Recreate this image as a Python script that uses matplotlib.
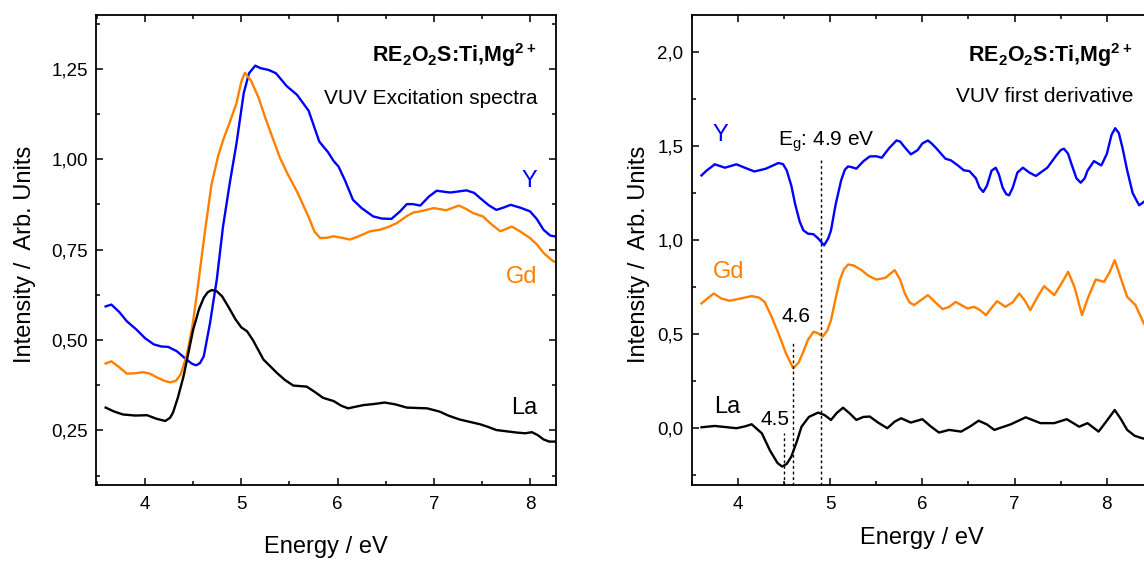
import matplotlib
matplotlib.use("Agg")
import matplotlib.pyplot as plt
from matplotlib.ticker import AutoMinorLocator

plt.rcParams['font.family'] = ['Liberation Sans', 'DejaVu Sans']
plt.rcParams['lines.solid_joinstyle'] = 'round'

# --- excitation spectra (left) ---
e_y = [3.59, 3.65, 3.73, 3.81, 3.91, 4.0, 4.09, 4.17, 4.24, 4.33, 4.43, 4.49, 4.53,
       4.57, 4.61, 4.675, 4.745, 4.81, 4.88, 4.95, 5.025, 5.08, 5.145, 5.2, 5.286,
       5.36, 5.47, 5.58, 5.70, 5.81, 5.90, 5.96, 6.01, 6.08, 6.16, 6.25, 6.37, 6.46,
       6.56, 6.65, 6.72, 6.78, 6.86, 6.95, 7.03, 7.17, 7.34, 7.42, 7.48, 7.57, 7.65,
       7.72, 7.80, 7.9, 8.0, 8.07, 8.14, 8.21, 8.27]
i_y = [0.593, 0.598, 0.578, 0.552, 0.529, 0.505, 0.488, 0.482, 0.481, 0.469, 0.446,
       0.434, 0.430, 0.436, 0.455, 0.547, 0.667, 0.814, 0.934, 1.044, 1.183, 1.238,
       1.259, 1.252, 1.247, 1.238, 1.203, 1.178, 1.134, 1.049, 1.02, 0.995, 0.98,
       0.94, 0.888, 0.865, 0.842, 0.836, 0.835, 0.856, 0.876, 0.876, 0.872, 0.897,
       0.913, 0.908, 0.914, 0.907, 0.893, 0.873, 0.860, 0.866, 0.874, 0.866, 0.856,
       0.835, 0.805, 0.789, 0.786]

e_gd = [3.59, 3.65, 3.73, 3.81, 3.9, 3.98, 4.05, 4.12, 4.2, 4.26, 4.32, 4.37, 4.43,
        4.49, 4.54, 4.62, 4.69, 4.76, 4.82, 4.877, 4.95, 5.0, 5.037, 5.10, 5.18, 5.25,
        5.40, 5.48, 5.58, 5.70, 5.76, 5.82, 5.89, 5.96, 6.04, 6.13, 6.22, 6.34, 6.44,
        6.53, 6.62, 6.72, 6.79, 6.86, 7.0, 7.13, 7.26, 7.34, 7.41, 7.51, 7.6, 7.69,
        7.75, 7.81, 7.9, 8.0, 8.07, 8.14, 8.24, 8.27]
i_gd = [0.435, 0.441, 0.425, 0.407, 0.408, 0.411, 0.407, 0.397, 0.387, 0.383, 0.387,
        0.405, 0.455, 0.535, 0.630, 0.796, 0.930, 1.01, 1.06, 1.10, 1.155, 1.215,
        1.239, 1.218, 1.17, 1.114, 1.005, 0.96, 0.91, 0.84, 0.80, 0.782, 0.783, 0.787,
        0.783, 0.778, 0.787, 0.801, 0.805, 0.813, 0.824, 0.843, 0.853, 0.856, 0.865,
        0.859, 0.872, 0.862, 0.851, 0.842, 0.82, 0.801, 0.807, 0.814, 0.80, 0.782,
        0.765, 0.741, 0.718, 0.716]

e_la = [3.59, 3.68, 3.77, 3.9, 4.02, 4.12, 4.21, 4.26, 4.29, 4.34, 4.40, 4.50, 4.56,
        4.61, 4.65, 4.69, 4.74, 4.80, 4.87, 4.94, 5.0, 5.06, 5.12, 5.23, 5.37, 5.45,
        5.54, 5.68, 5.76, 5.85, 5.96, 6.04, 6.11, 6.18, 6.27, 6.38, 6.49, 6.6, 6.72,
        6.93, 7.06, 7.16, 7.27, 7.48, 7.56, 7.65, 7.86, 7.95, 8.02, 8.08, 8.14, 8.2,
        8.27]
i_la = [0.313, 0.302, 0.294, 0.291, 0.292, 0.282, 0.276, 0.285, 0.299, 0.34, 0.400,
        0.529, 0.585, 0.617, 0.632, 0.638, 0.636, 0.621, 0.59, 0.557, 0.535, 0.524,
        0.50, 0.446, 0.409, 0.39, 0.374, 0.371, 0.357, 0.340, 0.331, 0.318, 0.311,
        0.315, 0.320, 0.323, 0.327, 0.322, 0.313, 0.311, 0.302, 0.29, 0.280, 0.267,
        0.26, 0.251, 0.244, 0.242, 0.245, 0.237, 0.225, 0.219, 0.219]

# --- first derivative (right) ---
d_e_y = [3.606, 3.66, 3.75, 3.86, 3.985, 4.08, 4.18, 4.3, 4.44, 4.49, 4.53, 4.58, 4.62,
         4.67, 4.71, 4.76, 4.82, 4.87, 4.935, 4.98, 5.01, 5.06, 5.12, 5.16, 5.195,
         5.24, 5.285, 5.36, 5.43, 5.50, 5.56, 5.64, 5.72, 5.76, 5.8, 5.875, 5.95, 6.0,
         6.06, 6.1, 6.15, 6.25, 6.31, 6.38, 6.45, 6.51, 6.58, 6.62, 6.66, 6.70, 6.75,
         6.795, 6.83, 6.87, 6.91, 6.94, 6.98, 7.03, 7.09, 7.16, 7.23, 7.355, 7.45,
         7.50, 7.535, 7.58, 7.62, 7.67, 7.716, 7.76, 7.79, 7.86, 7.94, 8.0, 8.05, 8.09,
         8.13, 8.17, 8.22, 8.28, 8.35, 8.40, 8.45]
d_i_y = [1.345, 1.37, 1.404, 1.386, 1.404, 1.385, 1.366, 1.38, 1.411, 1.405, 1.372,
         1.29, 1.195, 1.10, 1.053, 1.035, 1.032, 1.01, 0.973, 1.01, 1.053, 1.19, 1.319,
         1.375, 1.393, 1.388, 1.381, 1.42, 1.446, 1.447, 1.439, 1.49, 1.531, 1.525,
         1.50, 1.457, 1.48, 1.515, 1.531, 1.515, 1.49, 1.434, 1.425, 1.40, 1.372,
         1.368, 1.33, 1.28, 1.257, 1.29, 1.37, 1.386, 1.35, 1.28, 1.245, 1.239, 1.28,
         1.36, 1.386, 1.36, 1.342, 1.386, 1.45, 1.48, 1.487, 1.46, 1.40, 1.33, 1.306,
         1.33, 1.37, 1.421, 1.398, 1.46, 1.56, 1.596, 1.57, 1.49, 1.372, 1.25, 1.186,
         1.204, 1.22]

d_e_gd = [3.606, 3.67, 3.74, 3.82, 3.91, 4.03, 4.15, 4.23, 4.29, 4.36, 4.44, 4.52,
          4.60, 4.66, 4.71, 4.76, 4.82, 4.87, 4.92, 4.97, 5.01, 5.06, 5.105, 5.15,
          5.195, 5.26, 5.34, 5.42, 5.50, 5.60, 5.66, 5.70, 5.76, 5.81, 5.86, 5.91, 5.98,
          6.06, 6.14, 6.22, 6.29, 6.36, 6.49, 6.56, 6.62, 6.69, 6.75, 6.81, 6.90, 6.98,
          7.05, 7.11, 7.17, 7.25, 7.32, 7.43, 7.52, 7.58, 7.65, 7.73, 7.80, 7.88, 7.97,
          8.03, 8.085, 8.15, 8.22, 8.31, 8.40, 8.45]
d_i_gd = [0.664, 0.69, 0.717, 0.69, 0.678, 0.69, 0.703, 0.695, 0.672, 0.60, 0.505,
          0.40, 0.319, 0.35, 0.407, 0.47, 0.513, 0.505, 0.487, 0.52, 0.575, 0.69, 0.788,
          0.845, 0.871, 0.865, 0.841, 0.81, 0.791, 0.80, 0.825, 0.841, 0.79, 0.717,
          0.67, 0.655, 0.68, 0.708, 0.67, 0.634, 0.645, 0.672, 0.637, 0.646, 0.63,
          0.602, 0.64, 0.676, 0.646, 0.67, 0.717, 0.68, 0.628, 0.70, 0.756, 0.708, 0.78,
          0.832, 0.75, 0.602, 0.70, 0.791, 0.779, 0.83, 0.894, 0.80, 0.699, 0.655,
          0.558, 0.52]

d_e_la = [3.606, 3.75, 3.985, 4.08, 4.15, 4.26, 4.35, 4.43, 4.48, 4.53, 4.58, 4.64,
          4.69, 4.77, 4.87, 4.94, 5.01, 5.07, 5.14, 5.21, 5.285, 5.36, 5.43, 5.52, 5.62,
          5.70, 5.77, 5.875, 6.0, 6.09, 6.18, 6.29, 6.42, 6.52, 6.61, 6.70, 6.78, 6.96,
          7.12, 7.28, 7.43, 7.565, 7.70, 7.79, 7.91, 8.0, 8.085, 8.15, 8.22, 8.30, 8.38,
          8.45]
d_i_la = [0.005, 0.012, 0.0, 0.01, 0.021, -0.027, -0.12, -0.185, -0.204, -0.19, -0.151,
          -0.07, 0.008, 0.06, 0.083, 0.07, 0.044, 0.08, 0.109, 0.08, 0.044, 0.06, 0.062,
          0.03, 0.0, 0.035, 0.053, 0.030, 0.048, 0.01, -0.023, -0.009, -0.018, 0.01,
          0.040, 0.02, -0.009, 0.021, 0.058, 0.027, 0.027, 0.048, 0.008, 0.027, -0.018,
          0.04, 0.097, 0.05, -0.009, -0.04, -0.053, -0.06]

# band-gap markers: position and top of the dotted line
gap_e = [4.5, 4.6, 4.9]
gap_top = [-0.027, 0.451, 1.425]

x_ticks = [4, 5, 6, 7, 8]
x_labels = ['4', '5', '6', '7', '8']
left_yticks = [0.25, 0.5, 0.75, 1.0, 1.25]
left_ylabels = ['0,25', '0,50', '0,75', '1,00', '1,25']
right_yticks = [0.0, 0.5, 1.0, 1.5, 2.0]
right_ylabels = ['0,0', '0,5', '1,0', '1,5', '2,0']

BLUE = '#0000ff'
ORANGE = '#ff8000'
BLACK = '#000000'
title = r'RE$_\mathregular{2}$O$_\mathregular{2}$S:Ti,Mg$^\mathregular{2+}$'

W, H = 1144, 562
fig = plt.figure(figsize=(W / 100, H / 100), dpi=100)
ax1 = fig.add_axes([96 / W, 1 - 484.6 / H, 460 / W, 469.9 / H])
ax2 = fig.add_axes([691.7 / W, 1 - 484.6 / H, 461.3 / W, 469.9 / H])


def style(ax):
    for s in ax.spines.values():
        s.set_linewidth(1.3)
    ax.xaxis.set_minor_locator(AutoMinorLocator(2))
    ax.yaxis.set_minor_locator(AutoMinorLocator(2))
    ax.tick_params(which='both', direction='in', top=True, right=True,
                   width=1.1, labelsize=13.5, pad=6)
    ax.tick_params(axis='x', pad=8)
    ax.tick_params(which='major', length=5)
    ax.tick_params(which='minor', length=3)
    ax.set_xticks(x_ticks)
    ax.set_xticklabels(x_labels)
    ax.set_xlabel('Energy / eV', fontsize=17, va='center')
    ax.set_ylabel('Intensity /  Arb. Units', fontsize=17, va='center')


lw = 1.7
ax1.plot(e_y, i_y, color=BLUE, lw=lw)
ax1.plot(e_gd, i_gd, color=ORANGE, lw=lw)
ax1.plot(e_la, i_la, color=BLACK, lw=lw)
ax1.set_xlim(3.49, 8.27)
ax1.set_ylim(0.1, 1.4)
style(ax1)
ax1.set_yticks(left_yticks)
ax1.set_yticklabels(left_ylabels)
ax1.xaxis.set_label_coords(0.5, -0.133)
ax1.yaxis.set_label_coords(-0.155, 0.49)
ax1.text(8.06, 1.27, title, fontsize=15.5, fontweight='bold', ha='right', va='baseline')
ax1.text(8.08, 1.168, 'VUV Excitation spectra', fontsize=15, ha='right', va='center')
ax1.text(8.08, 0.939, 'Y', color=BLUE, fontsize=17, ha='right', va='center')
ax1.text(8.08, 0.673, 'Gd', color=ORANGE, fontsize=17, ha='right', va='center')
ax1.text(8.08, 0.313, 'La', color=BLACK, fontsize=17, ha='right', va='center')

ax2.plot(d_e_y, d_i_y, color=BLUE, lw=lw)
ax2.plot(d_e_gd, d_i_gd, color=ORANGE, lw=lw)
ax2.plot(d_e_la, d_i_la, color=BLACK, lw=lw)
for e, top in zip(gap_e, gap_top):
    ax2.plot([e, e], [-0.3, top], color=BLACK, lw=1.0, ls=(0, (2, 2)))
ax2.set_xlim(3.5, 8.5)
ax2.set_ylim(-0.3, 2.2)
style(ax2)
ax2.set_yticks(right_yticks)
ax2.set_yticklabels(right_ylabels)
ax2.xaxis.set_label_coords(0.5, -0.113)
ax2.yaxis.set_label_coords(-0.115, 0.49)
ax2.text(8.28, 1.947, title, fontsize=15.5, fontweight='bold', ha='right', va='baseline')
ax2.text(8.29, 1.766, 'VUV first derivative', fontsize=15, ha='right', va='center')
ax2.text(3.73, 1.56, 'Y', color=BLUE, fontsize=17, ha='left', va='center')
ax2.text(3.73, 0.83, 'Gd', color=ORANGE, fontsize=17, ha='left', va='center')
ax2.text(3.74, 0.113, 'La', color=BLACK, fontsize=17, ha='left', va='center')
ax2.text(4.437, 1.505, r'E$_\mathregular{g}$: 4.9 eV', fontsize=15, ha='left', va='baseline')
ax2.text(4.47, 0.596, '4.6', fontsize=15, ha='left', va='center')
ax2.text(4.25, 0.044, '4.5', fontsize=15, ha='left', va='center')

fig.savefig('out.png', dpi=100)
